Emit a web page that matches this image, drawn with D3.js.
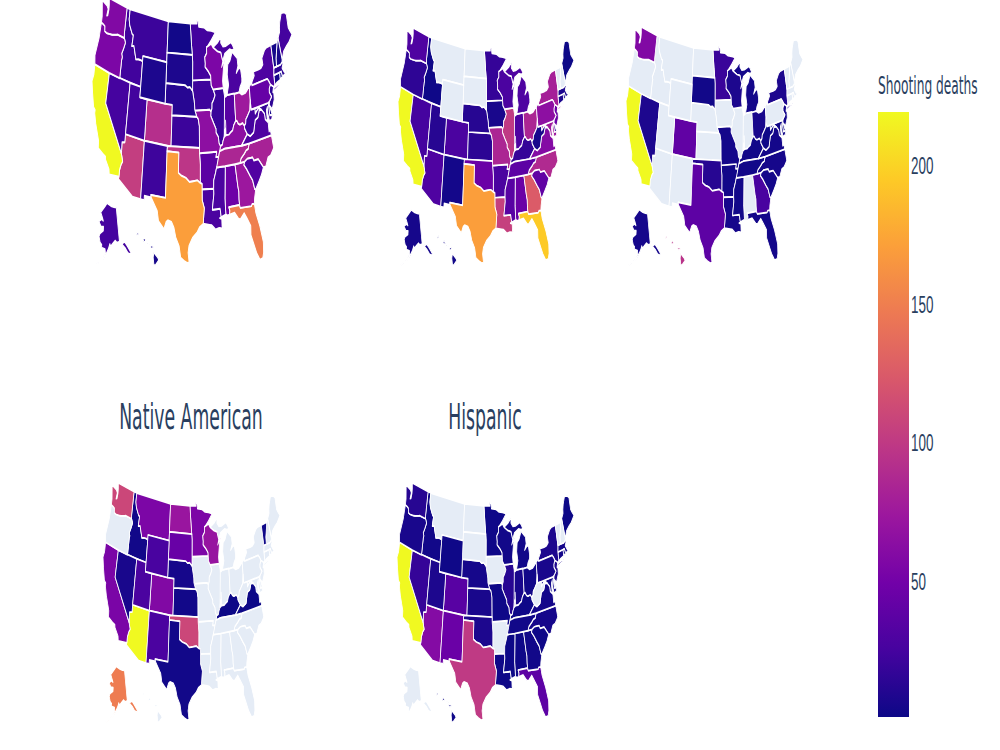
<!DOCTYPE html>
<html>
<head>
<meta charset="utf-8">
<script src="https://cdn.jsdelivr.net/npm/d3@7"></script>
<style>
  html, body { margin: 0; background: #fff; }
  svg { display: block; font-family: "DejaVu Sans", Verdana, sans-serif; }
</style>
</head>
<body>
<svg id="chart" width="1000" height="750"></svg>
<script>
// Fatal police shootings per state, one choropleth per group, on a shared colour axis.
const states = ["AK","AL","AR","AZ","CA","CO","CT","DC","DE","FL","GA","HI","IA","ID","IL","IN","KS","KY","LA","MA","MD","ME","MI","MN","MO","MS","MT","NC","ND","NE","NH","NJ","NM","NV","NY","OH","OK","OR","PA","RI","SC","SD","TN","TX","UT","VA","VT","WA","WI","WV","WY"];

const whiteDeaths =    [25,47,37,103,219,92,5,2,5,150,74,5,22,23,20,35,21,65,28,15,18,25,28,24,65,28,21,82,3,12,6,15,22,25,30,75,97,55,43,2,32,8,85,170,24,30,4,58,55,25,8];
const blackDeaths =    [5,45,28,30,219,28,8,12,8,195,125,3,6,2,100,30,14,18,105,8,75,1,30,18,85,35,null,88,null,12,null,45,4,25,80,85,45,15,65,3,40,null,38,170,12,60,null,30,28,6,null];
const asianDeaths =    [5,null,3,null,219,40,null,null,2,4,27,95,null,null,null,null,null,3,5,null,3,null,4,20,4,3,null,5,null,null,null,4,null,8,8,6,12,null,null,null,4,3,3,38,null,4,null,58,8,2,null];
const nativeDeaths =   [148,null,null,219,54,58,null,null,null,null,null,null,null,3,null,null,3,1,null,null,null,null,null,55,null,null,55,null,72,5,null,null,28,6,null,null,110,null,null,null,null,44,null,3,28,1,2,110,70,null,27];
const hispanicDeaths = [null,2,null,60,219,35,4,2,null,38,3,2,null,3,12,6,6,2,2,5,3,1,3,2,2,1,null,5,null,5,null,8,45,18,8,3,8,6,6,2,2,null,3,100,8,4,null,12,3,null,2];

const panelTitles = ["", "", "", "Native American", "Hispanic"];
const panelValues = [whiteDeaths, blackDeaths, asianDeaths, nativeDeaths, hispanicDeaths];
// x0, x1, y0, y1 of the contiguous states in each panel
const panelBoxes = [[92,292,-2,263],[398,574,28,263],[626,803,27,263],[103,280,483,720],[397,574,483,720]];

const colorTicks = [50,100,150,200];
const colorDomain = [1,219];
const plasma = ["#0d0887","#46039f","#7201a8","#9c179e","#bd3786","#d8576b","#ed7953","#fb9f3a","#fdca26","#f0f921"];
const noDataFill = "#E5ECF6";
const textColor = "#2a3f5f";

// Shared borders, [lon, lat]
const riverOhioIL = [[-89.13,36.98],[-88.6,37.1],[-88.43,37.42],[-88.05,37.8]];
const riverOhioIN = [[-88.05,37.8],[-87.57,37.95],[-86.8,37.95],[-86.3,38.13],[-85.75,38.27],[-85.42,38.73],[-84.82,39.1]];
const riverOhioOH = [[-84.82,39.1],[-84.5,39.1],[-84.2,38.8],[-83.75,38.65],[-83,38.73],[-82.59,38.42]];
const riverOhioWV = [[-82.59,38.42],[-82.2,38.6],[-82.05,39],[-81.55,39.27],[-80.85,39.7],[-80.72,40.07],[-80.52,40.64]];
const borderMNWI = [[-92.02,46.71],[-92.29,46.66],[-92.29,46.07],[-92.87,45.7],[-92.75,45.1],[-92.8,44.75],[-91.9,44.3],[-91.25,43.85],[-91.22,43.5]];
const borderIAWI = [[-91.22,43.5],[-91.15,42.9],[-90.64,42.51]];
const borderIAIL = [[-90.64,42.51],[-90.15,41.95],[-90.6,41.5],[-91.05,41.2],[-91.1,40.7],[-91.42,40.38]];
const borderMOIL = [[-91.42,40.38],[-91.5,40],[-90.75,39.25],[-90.18,38.7],[-90.2,38.35],[-89.6,37.9],[-89.5,37.3],[-89.13,36.98]];
const borderTNAR = [[-89.7,36],[-90.07,35.13],[-90.3,35]];
const borderMSAR = [[-90.3,35],[-90.6,34.5],[-91.1,33.8],[-91.17,33]];
const borderMSLA = [[-91.17,33],[-91.15,32.5],[-91.6,31],[-89.73,31],[-89.53,30.18]];
const borderIDMT = [[-111.05,44.48],[-111.5,44.55],[-112.3,44.55],[-113,44.45],[-113.45,45.05],[-113.9,45.65],[-114.5,45.55],[-114.35,46.65],[-114.7,46.7],[-115.7,47.45],[-116.05,48]];
const riverColumbia = [[-124.05,46.27],[-123.4,46.2],[-122.9,46.1],[-122.75,45.65],[-122.2,45.57],[-121.2,45.65],[-120.5,45.72],[-119.3,45.93],[-119,46],[-116.92,46]];
const riverSnake = [[-116.92,46],[-116.46,45.6],[-116.85,44.9],[-117.2,44.4],[-116.93,44.1],[-117.03,43.8],[-117.03,42]];
const riverRed = [[-94.48,33.64],[-95.2,33.9],[-96.5,33.8],[-97.2,33.75],[-98.1,34.13],[-99.2,34.3],[-100,34.56]];
const riverMissouri = [[-96.45,42.49],[-96.1,41.7],[-95.9,41.2],[-95.85,40.7],[-95.77,40.58]];
const riverColoradoCA = [[-114.63,35],[-114.15,34.3],[-114.45,34],[-114.72,33.4],[-114.72,32.72]];
const riverSabine = [[-94.04,33.02],[-94.04,31.99],[-93.55,31.2],[-93.7,30.5],[-93.85,29.7]];
const riverWabash = [[-87.53,39.35],[-87.53,38.75],[-87.95,38.2],[-88.05,37.8]];
const riverSavannah = [[-83.35,34.7],[-82.75,34.25],[-82,33.5],[-81.45,33],[-81.1,32.1],[-80.88,32.03]];
const borderNCSC = [[-83.11,35],[-82.4,35.2],[-81.05,35.15],[-80.8,34.82],[-79.67,34.8],[-78.55,33.86]];
const borderNCTN = [[-84.32,35],[-84,35.4],[-83.1,35.77],[-82.6,36.03],[-82,36.12],[-81.68,36.59]];
const borderKYWV = [[-82.59,38.42],[-82.6,38.17],[-81.97,37.54]];
const borderVAWV = [[-81.97,37.54],[-81.25,37.25],[-80.3,37.5],[-79.65,38.6],[-78.87,38.77],[-78.35,39.4],[-77.72,39.32]];
const riverPotomac = [[-77,38.3],[-77.05,38.85],[-77.72,39.32]];
const borderMDWV = [[-77.72,39.32],[-78.4,39.62],[-78.95,39.45],[-79.48,39.2]];
const riverDelaware = [[-75.42,39.8],[-74.72,40.15],[-75.2,40.65],[-75.13,40.98],[-74.7,41.36]];
const borderNHVT = [[-72.46,42.73],[-72.35,43.5],[-72.05,44],[-71.5,45.01]];
const borderGAAL = [[-85.6,35],[-85.18,32.87],[-85,32.3],[-85.05,31.55],[-85,31]];
const borderUP = [[-90.4,46.57],[-89.1,46.13],[-88.1,45.95],[-87.8,45.35],[-87.6,45.1]];
const borderKYTN = [[-81.68,36.59],[-83.68,36.6],[-88.07,36.68],[-89.4,36.5]];

const rev = line => line.slice().reverse();
const join = (...parts) => parts.flat();

const shapes = {
  WA: [join([[-124.73,48.38],[-124.1,46.9]], riverColumbia, [[-117.04,46.42],[-117.04,49],[-122.75,49],[-122.5,48.4],[-122.4,47.9],[-122.5,47.3],[-122.8,47.2],[-122.65,47.9],[-123.1,48.15]])],
  OR: [join(riverColumbia, riverSnake.slice(1), [[-120,42],[-124.21,42],[-124.55,42.84],[-124.1,44.7]])],
  ID: [join([[-117.04,49],[-116.05,49]], rev(borderIDMT), [[-111.05,42]], rev(riverSnake), [[-117.04,46.42]])],
  MT: [join([[-116.05,49],[-104.05,49],[-104.05,45],[-111.05,45]], borderIDMT)],
  WY: [[[-111.05,45],[-104.05,45],[-104.05,41],[-111.05,41]]],
  UT: [[[-114.05,42],[-111.05,42],[-111.05,41],[-109.05,41],[-109.05,37],[-114.05,37]]],
  CO: [[[-109.05,41],[-102.05,41],[-102.05,37],[-109.05,37]]],
  NV: [[[-120,42],[-114.05,42],[-114.05,36.2],[-114.75,36.1],[-114.63,35],[-120,39]]],
  CA: [join([[-124.21,42],[-120,42],[-120,39]], riverColoradoCA, [[-117.12,32.53],[-117.3,33],[-118.4,33.75],[-118.5,34.03],[-119.2,34.15],[-120.5,34.45],[-120.65,35.15],[-121.9,36.6],[-122.5,37.5],[-122.5,37.8],[-123,38],[-123.8,39.3],[-124.35,40.3],[-124.1,41]])],
  AZ: [join([[-114.05,37],[-109.05,37],[-109.05,31.33],[-111.07,31.33],[-114.81,32.5]], rev(riverColoradoCA), [[-114.75,36.1],[-114.05,36.2]])],
  NM: [[[-109.05,37],[-103,37],[-103.04,32],[-106.62,32],[-106.53,31.78],[-108.2,31.78],[-108.2,31.33],[-109.05,31.33]]],
  TX: [join([[-103.04,36.5],[-100,36.5]], rev(riverRed), [[-94.04,33.55]], riverSabine, [[-94.7,29.4],[-95.3,28.9],[-96.4,28.35],[-97.2,27.6],[-97.4,26.9],[-97.15,25.96],[-97.6,25.9],[-98.3,26.1],[-99.1,26.4],[-99.5,27.5],[-100.3,28.3],[-100.8,29.25],[-101.4,29.77],[-102.3,29.88],[-102.7,29.7],[-103.15,28.98],[-104.5,29.65],[-104.9,30.6],[-106.53,31.78],[-106.62,32],[-103.04,32]])],
  OK: [join([[-103,37],[-94.62,37],[-94.62,36.5],[-94.43,35.4]], riverRed, [[-100,36.5],[-103.04,36.5]])],
  KS: [[[-102.05,40],[-95.31,40],[-94.9,39.8],[-94.61,39.11],[-94.62,37],[-102.05,37]]],
  NE: [join([[-104.05,43],[-98.5,43],[-97.9,42.8],[-97.2,42.85]], riverMissouri, [[-95.31,40],[-102.05,40],[-102.05,41],[-104.05,41]])],
  SD: [[[-104.05,45.94],[-96.56,45.94],[-96.45,45.3],[-96.45,43.5],[-96.45,42.49],[-97.2,42.85],[-97.9,42.8],[-98.5,43],[-104.05,43]]],
  ND: [[[-104.05,49],[-97.23,49],[-96.8,46.9],[-96.56,45.94],[-104.05,45.94]]],
  MN: [join([[-97.23,49],[-95.15,49],[-95.15,49.38],[-94.8,49.3],[-94.6,48.7],[-93,48.6],[-92,48.3],[-90.8,48.2],[-89.5,48],[-90.8,47.3]], borderMNWI, [[-96.45,43.5],[-96.45,45.3],[-96.56,45.94],[-96.8,46.9]])],
  IA: [join([[-96.45,43.5],[-91.22,43.5]], borderIAWI.slice(1), borderIAIL.slice(1), [[-91.73,40.61]], rev(riverMissouri))],
  MO: [join([[-95.77,40.58],[-91.73,40.61]], borderMOIL, [[-89.4,36.5],[-89.7,36],[-90.37,36],[-90.15,36.5],[-94.62,36.5],[-94.62,37],[-94.61,39.11],[-94.9,39.8],[-95.31,40]])],
  AR: [join([[-94.62,36.5],[-90.15,36.5],[-90.37,36]], borderTNAR, borderMSAR.slice(1), [[-94.04,33.02],[-94.04,33.55],[-94.48,33.64],[-94.43,35.4]])],
  LA: [join([[-94.04,33.02]], borderMSLA, [[-89.9,30.1],[-89.4,30],[-89.4,29.3],[-89.1,29.05],[-90.1,29.15],[-90.9,29.05],[-91.8,29.5],[-92.3,29.55]], rev(riverSabine))],
  MS: [join(borderMSAR, borderMSLA.slice(1), [[-88.4,30.37],[-88.47,31.9],[-88.1,34.9],[-88.2,35]])],
  AL: [join([[-88.2,35]], borderGAAL, [[-87.6,31],[-87.4,30.65],[-87.52,30.28],[-88,30.23],[-88.4,30.37],[-88.47,31.9],[-88.1,34.9]])],
  GA: [join(borderGAAL, [[-84.86,30.7],[-82.2,30.57],[-82,30.75],[-81.45,30.72],[-81.3,31.2]], rev(riverSavannah), [[-83.11,35],[-84.32,35]])],
  FL: [[[-87.6,31],[-85,31],[-84.86,30.7],[-82.2,30.57],[-82,30.75],[-81.45,30.72],[-81.25,29.8],[-80.55,28.4],[-80.03,26.8],[-80.15,25.75],[-80.45,25.2],[-81.1,25.15],[-81.75,25.95],[-82.2,26.8],[-82.75,27.8],[-82.65,28.7],[-83.4,29.5],[-84,30.1],[-85,29.6],[-85.4,29.7],[-86.3,30.38],[-87.52,30.28],[-87.4,30.65]]],
  SC: [join(riverSavannah, [[-79.9,32.7],[-79.2,33.2]], rev(borderNCSC))],
  NC: [join(borderNCTN, [[-75.8,36.55],[-75.55,35.25],[-76.5,34.7],[-77.2,34.6],[-77.95,33.85]], rev(borderNCSC), [[-84.32,35]])],
  TN: [join([[-90.3,35],[-88.2,35],[-85.6,35]], borderNCTN, borderKYTN.slice(1), [[-89.7,36]])],
  KY: [join(riverOhioIL, riverOhioIN.slice(1), riverOhioOH.slice(1), borderKYWV.slice(1), [[-83.68,36.6],[-88.07,36.68],[-89.4,36.5]])],
  WV: [join(riverOhioWV, [[-80.52,39.72],[-79.48,39.72]], rev(borderMDWV), rev(borderVAWV), [[-82.6,38.17]])],
  VA: [join([[-83.68,36.6],[-81.68,36.59],[-75.8,36.55],[-75.95,37.1],[-76.3,37],[-76.3,37.9]], riverPotomac, rev(borderVAWV))],
  MD: [join([[-79.48,39.72],[-75.79,39.72],[-75.7,38.46],[-75.05,38.45],[-75.25,38.03],[-75.9,37.95],[-76.2,38.8],[-76.1,39.4],[-76.45,39.1],[-76.45,38.3],[-76.3,37.95]], riverPotomac, borderMDWV.slice(1))],
  DE: [[[-75.79,39.72],[-75.42,39.8],[-75.55,39.45],[-75.05,38.45],[-75.7,38.46]]],
  DC: [[[-77.12,38.93],[-77.04,39],[-76.91,38.89],[-77.04,38.79]]],
  PA: [join([[-80.52,41.98],[-79.76,42.27],[-79.76,42],[-75.35,42],[-75.05,41.75]], rev(riverDelaware), [[-75.79,39.72],[-80.52,39.72],[-80.52,40.64]])],
  NJ: [join(rev(riverDelaware), [[-75.55,39.45],[-74.9,38.95],[-74.1,39.75],[-74,40.45],[-74.25,40.5],[-73.9,41]])],
  NY: [[[-79.76,42.27],[-79.76,42],[-75.35,42],[-75.05,41.75],[-74.7,41.36],[-73.9,41],[-73.65,41],[-73.49,41.2],[-73.5,42.05],[-73.26,42.75],[-73.35,45.01],[-74.7,45],[-75.3,44.85],[-76.3,44.2],[-76.2,43.55],[-76.8,43.3],[-77.6,43.25],[-79.05,43.27],[-78.9,42.85]],
       [[-74.02,40.7],[-73.9,40.58],[-72.5,40.8],[-71.9,41.05],[-72.6,40.98],[-73.7,40.87]]],
  CT: [[[-73.5,42.05],[-71.8,42.02],[-71.85,41.32],[-73,41.2],[-73.65,41],[-73.49,41.2]]],
  RI: [[[-71.8,42.02],[-71.38,42.02],[-71.2,41.5],[-71.85,41.32]]],
  MA: [[[-73.5,42.05],[-73.26,42.75],[-72.46,42.73],[-71.3,42.7],[-70.8,42.87],[-70.6,42.65],[-71,42.3],[-70.55,41.8],[-70,41.8],[-70,42.05],[-69.95,41.67],[-70.65,41.55],[-71.2,41.5],[-71.38,42.02],[-71.8,42.02]]],
  NH: [join(borderNHVT, [[-71.08,45.3],[-70.7,43.07],[-70.8,42.87],[-71.3,42.7]])],
  VT: [join([[-73.26,42.75]], borderNHVT, [[-73.35,45.01]])],
  ME: [[[-71.08,45.3],[-70.4,45.8],[-70.3,46.2],[-70,46.7],[-69.23,47.46],[-68.3,47.35],[-67.8,47.07],[-67.8,45.7],[-67.45,45.3],[-67,44.85],[-68.2,44.3],[-69,44.1],[-70,43.75],[-70.7,43.07]]],
  OH: [join(riverOhioOH, riverOhioWV.slice(1), [[-80.52,41.98],[-81.7,41.5],[-82.7,41.45],[-83.45,41.73],[-84.8,41.7]])],
  IN: [join(rev(riverWabash), riverOhioIN.slice(1), [[-84.8,41.76],[-86.82,41.76],[-87.2,41.62],[-87.53,41.72]])],
  IL: [join([[-90.64,42.51],[-87.8,42.5],[-87.53,41.72]], riverWabash, rev(riverOhioIL).slice(1), rev(borderMOIL).slice(1), rev(borderIAIL).slice(1))],
  WI: [join(borderUP, [[-88,44.55],[-87.1,45.25],[-87.55,44.3],[-87.9,43.2],[-87.8,42.5]], rev(borderIAWI), rev(borderMNWI).slice(1), [[-90.9,46.95]])],
  MI: [[[-86.82,41.76],[-84.8,41.76],[-84.8,41.7],[-83.45,41.73],[-83.1,42.2],[-82.5,42.6],[-82.42,43],[-82.6,43.9],[-83,44.07],[-83.9,43.65],[-83.3,44.3],[-83.4,45.05],[-84.75,45.78],[-85.5,45],[-86.2,44.7],[-86.5,43.7],[-86.25,42.7]],
       join(borderUP, [[-87,45.75],[-85.5,46.1],[-84.75,45.95],[-84.1,46],[-84.6,46.5],[-85,46.75],[-86.5,46.5],[-87.4,46.5],[-88,46.9],[-87.9,47.47],[-88.9,47]])],
  AK: [[[-141,69.65],[-145,70],[-150,70.5],[-156.6,71.35],[-160,70.4],[-166.5,68.35],[-163.5,67.1],[-161.8,66.2],[-164,66.55],[-168.1,65.65],[-164.5,64.5],[-161,64.6],[-161,63.5],[-165,62.5],[-166,61.6],[-164,60],[-162,59.5],[-162,58.7],[-158,58.5],[-157.5,57.5],[-160,56],[-163.2,54.8],[-160,55.5],[-157,57],[-154,58.8],[-152.5,60],[-151.5,59.3],[-149,60],[-146,60.7],[-144,60],[-141,60],[-139.5,59.7],[-137.5,58.5],[-135.5,57.5],[-133.5,55.8],[-131.5,55],[-130.2,55.2],[-131.3,56.3],[-133,57.8],[-135,59.2],[-137.5,59.2],[-139.5,60.2],[-141,60.3]],
       [[-164,54.7],[-166.5,53.7],[-168.5,53],[-167,53.3],[-164.5,54.3]]],
  HI: [[[-155.9,20.25],[-155.05,19.75],[-154.8,19.5],[-155.65,18.95],[-155.9,19.1],[-156.05,19.75]],
       [[-156.7,20.9],[-156.25,20.95],[-156,20.75],[-156.4,20.58]],
       [[-157.3,21.2],[-156.75,21.17],[-156.9,21.05],[-157.25,21.1]],
       [[-158.25,21.55],[-157.95,21.7],[-157.65,21.3],[-158.1,21.3]],
       [[-159.75,22.1],[-159.4,22.23],[-159.3,21.95],[-159.6,21.9]]]
};

// Closes each ring and orients it so it bounds the small side of the sphere.
function ringToPolygon(ring) {
  const closed = [...ring, ring[0]];
  return d3.geoArea({type: "Polygon", coordinates: [closed]}) > 2 * Math.PI
    ? [closed.slice().reverse()]
    : [closed];
}
const features = states.map(id => ({
  type: "Feature",
  id,
  geometry: {type: "MultiPolygon", coordinates: shapes[id].map(ringToPolygon)}
}));

const color = d3.scaleLinear()
  .domain(plasma.map((_, i) => colorDomain[0] + (colorDomain[1] - colorDomain[0]) * i / (plasma.length - 1)))
  .range(plasma)
  .interpolate(d3.interpolateRgb);

// Base map at a nominal size; each panel stretches it to its own box, strokes included.
const projection = d3.geoAlbersUsa().scale(214).translate([100, 70]);
const path = d3.geoPath(projection);
const lower48 = {type: "FeatureCollection", features: features.filter(f => f.id !== "AK" && f.id !== "HI")};
const base = path.bounds(lower48);

const svg = d3.select("#chart");

panelValues.forEach((values, p) => {
  const [x0, x1, y0, y1] = panelBoxes[p];
  const sx = (x1 - x0) / (base[1][0] - base[0][0]);
  const sy = (y1 - y0) / (base[1][1] - base[0][1]);
  const g = svg.append("g")
    .attr("transform", `translate(${x0 - base[0][0] * sx},${y0 - base[0][1] * sy}) scale(${sx},${sy})`);
  g.selectAll("path")
    .data(features)
    .join("path")
    .attr("d", path)
    .attr("fill", (d, i) => values[i] == null ? noDataFill : color(values[i]))
    .attr("stroke", "#fff")
    .attr("stroke-width", 0.7)
    .attr("stroke-linejoin", "round");
});

// Panel headings, only the lower row has room for them
const titleAnchors = [null, null, null, [191, 429], [485, 429]];
panelTitles.forEach((t, i) => {
  if (!t) return;
  svg.append("text")
    .attr("transform", `translate(${titleAnchors[i][0]},${titleAnchors[i][1]}) scale(1.08,2.2)`)
    .attr("text-anchor", "middle")
    .attr("font-size", 16)
    .attr("fill", textColor)
    .text(t);
});

// Colour bar
const barX = 878, barW = 31, barTop = 112, barBottom = 717;
const barScale = d3.scaleLinear().domain(colorDomain).range([barBottom, barTop]);
const grad = svg.append("defs").append("linearGradient")
  .attr("id", "plasma-bar").attr("x1", 0).attr("x2", 0).attr("y1", 1).attr("y2", 0);
plasma.forEach((c, i) => grad.append("stop")
  .attr("offset", i / (plasma.length - 1))
  .attr("stop-color", c));
svg.append("rect")
  .attr("x", barX).attr("y", barTop)
  .attr("width", barW).attr("height", barBottom - barTop)
  .attr("fill", "url(#plasma-bar)");

const axis = svg.append("g")
  .attr("transform", `translate(${barX + barW},0)`)
  .call(d3.axisRight(barScale).tickValues(colorTicks).tickSize(0).tickPadding(2));
axis.select(".domain").remove();
axis.selectAll("text")
  .attr("font-family", null)
  .attr("font-size", 12)
  .attr("fill", textColor)
  .attr("x", 0).attr("dy", null)
  .attr("dominant-baseline", "central")
  .attr("transform", "translate(2,0) scale(1.12,2)");

svg.append("text")
  .attr("transform", "translate(878,94) scale(1.02,2.05)")
  .attr("font-size", 12)
  .attr("fill", textColor)
  .text("Shooting deaths");
</script>
</body>
</html>
